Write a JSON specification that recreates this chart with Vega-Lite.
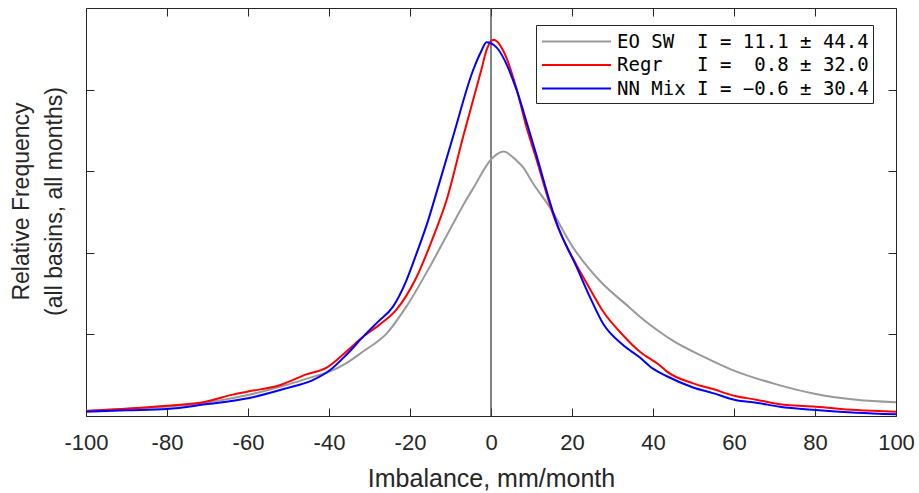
{
  "$schema": "https://vega.github.io/schema/vega-lite/v6.json",
  "width": 810,
  "height": 408,
  "autosize": {"type": "none"},
  "padding": {"left": 86, "top": 8, "right": 23, "bottom": 77},
  "background": "white",
  "config": {
    "view": {"stroke": null},
    "font": "Liberation Sans",
    "axis": {
      "grid": false,
      "domainColor": "#262626",
      "domainWidth": 1,
      "tickColor": "#262626",
      "tickWidth": 1,
      "tickSize": -8,
      "labelFont": "Liberation Sans",
      "labelFontSize": 22,
      "labelColor": "#262626",
      "titleFont": "Liberation Sans",
      "titleFontWeight": "normal",
      "titleColor": "#262626"
    }
  },
  "layer": [
    {
      "data": {"values": [{"x": 0}]},
      "mark": {"type": "rule", "color": "#404040", "strokeWidth": 1.3},
      "encoding": {
        "x": {
          "field": "x",
          "type": "quantitative",
          "scale": {"domain": [-100, 100], "nice": false, "zero": false},
          "axis": {
            "orient": "bottom",
            "values": [-100, -80, -60, -40, -20, 0, 20, 40, 60, 80, 100],
            "labelPadding": 24,
            "labelFlush": false,
            "labelExpr": "'' + datum.value",
            "title": "Imbalance, mm/month",
            "titleFontSize": 25,
            "titlePadding": 13
          }
        },
        "y": {
          "datum": 0,
          "type": "quantitative",
          "scale": {"domain": [0, 5], "nice": false, "zero": false},
          "axis": {
            "orient": "left",
            "values": [1, 2, 3, 4],
            "labels": false,
            "title": ["Relative Frequency", "(all basins, all months)"],
            "titleFontSize": 23,
            "titleLineHeight": 33,
            "titlePadding": 19,
            "titleY": 193
          }
        },
        "y2": {"datum": 5}
      }
    },
    {
      "data": {
        "values": [
          {"series": "EO SW", "x": -100, "y": 0.065},
          {"series": "EO SW", "x": -90, "y": 0.09},
          {"series": "EO SW", "x": -80, "y": 0.114},
          {"series": "EO SW", "x": -70.5, "y": 0.163},
          {"series": "EO SW", "x": -60, "y": 0.257},
          {"series": "EO SW", "x": -50.6, "y": 0.38},
          {"series": "EO SW", "x": -44, "y": 0.48},
          {"series": "EO SW", "x": -40, "y": 0.54},
          {"series": "EO SW", "x": -35.8, "y": 0.645},
          {"series": "EO SW", "x": -31.6, "y": 0.79},
          {"series": "EO SW", "x": -25.8, "y": 1.01},
          {"series": "EO SW", "x": -20.9, "y": 1.34},
          {"series": "EO SW", "x": -15.1, "y": 1.83},
          {"series": "EO SW", "x": -10.2, "y": 2.28},
          {"series": "EO SW", "x": -6.1, "y": 2.65},
          {"series": "EO SW", "x": -4.4, "y": 2.79},
          {"series": "EO SW", "x": 0.1, "y": 3.15},
          {"series": "EO SW", "x": 1.5, "y": 3.21},
          {"series": "EO SW", "x": 3.1, "y": 3.24},
          {"series": "EO SW", "x": 6.3, "y": 3.13},
          {"series": "EO SW", "x": 7.9, "y": 3.05},
          {"series": "EO SW", "x": 10.4, "y": 2.85},
          {"series": "EO SW", "x": 14.5, "y": 2.56},
          {"series": "EO SW", "x": 20.2, "y": 2.07},
          {"series": "EO SW", "x": 26.8, "y": 1.66},
          {"series": "EO SW", "x": 34.2, "y": 1.33},
          {"series": "EO SW", "x": 36.7, "y": 1.22},
          {"series": "EO SW", "x": 41.7, "y": 1.03},
          {"series": "EO SW", "x": 45, "y": 0.92},
          {"series": "EO SW", "x": 53.2, "y": 0.71},
          {"series": "EO SW", "x": 60.3, "y": 0.55},
          {"series": "EO SW", "x": 69.6, "y": 0.4},
          {"series": "EO SW", "x": 80.2, "y": 0.27},
          {"series": "EO SW", "x": 90.2, "y": 0.2},
          {"series": "EO SW", "x": 100, "y": 0.17},
          {"series": "Regr", "x": -100, "y": 0.061},
          {"series": "Regr", "x": -90, "y": 0.09},
          {"series": "Regr", "x": -80, "y": 0.126},
          {"series": "Regr", "x": -70.5, "y": 0.175},
          {"series": "Regr", "x": -63.5, "y": 0.265},
          {"series": "Regr", "x": -60, "y": 0.3},
          {"series": "Regr", "x": -52, "y": 0.38},
          {"series": "Regr", "x": -45.6, "y": 0.51},
          {"series": "Regr", "x": -40.7, "y": 0.59},
          {"series": "Regr", "x": -35.7, "y": 0.79},
          {"series": "Regr", "x": -31.6, "y": 0.97},
          {"series": "Regr", "x": -27.5, "y": 1.12},
          {"series": "Regr", "x": -23.4, "y": 1.3},
          {"series": "Regr", "x": -18.4, "y": 1.7},
          {"series": "Regr", "x": -14.3, "y": 2.19},
          {"series": "Regr", "x": -11, "y": 2.64},
          {"series": "Regr", "x": -6.9, "y": 3.42},
          {"series": "Regr", "x": -2.4, "y": 4.24},
          {"series": "Regr", "x": -1, "y": 4.5},
          {"series": "Regr", "x": 0.7, "y": 4.61},
          {"series": "Regr", "x": 3, "y": 4.48},
          {"series": "Regr", "x": 6.3, "y": 4.01},
          {"series": "Regr", "x": 8.7, "y": 3.55},
          {"series": "Regr", "x": 11.2, "y": 3.15},
          {"series": "Regr", "x": 14.5, "y": 2.6},
          {"series": "Regr", "x": 15.7, "y": 2.42},
          {"series": "Regr", "x": 21.1, "y": 1.85},
          {"series": "Regr", "x": 24.4, "y": 1.56},
          {"series": "Regr", "x": 27.7, "y": 1.28},
          {"series": "Regr", "x": 32.6, "y": 0.99},
          {"series": "Regr", "x": 36.7, "y": 0.79},
          {"series": "Regr", "x": 41.7, "y": 0.62},
          {"series": "Regr", "x": 43.3, "y": 0.55},
          {"series": "Regr", "x": 49.9, "y": 0.4},
          {"series": "Regr", "x": 54.8, "y": 0.33},
          {"series": "Regr", "x": 60.3, "y": 0.245},
          {"series": "Regr", "x": 65.5, "y": 0.2},
          {"series": "Regr", "x": 71.3, "y": 0.143},
          {"series": "Regr", "x": 80.2, "y": 0.114},
          {"series": "Regr", "x": 90.2, "y": 0.073},
          {"series": "Regr", "x": 100, "y": 0.053},
          {"series": "NN Mix", "x": -100, "y": 0.053},
          {"series": "NN Mix", "x": -90, "y": 0.07},
          {"series": "NN Mix", "x": -80, "y": 0.086},
          {"series": "NN Mix", "x": -70.5, "y": 0.143},
          {"series": "NN Mix", "x": -60, "y": 0.217},
          {"series": "NN Mix", "x": -50.6, "y": 0.339},
          {"series": "NN Mix", "x": -44, "y": 0.44},
          {"series": "NN Mix", "x": -39.8, "y": 0.56},
          {"series": "NN Mix", "x": -35.7, "y": 0.75},
          {"series": "NN Mix", "x": -31.6, "y": 0.97},
          {"series": "NN Mix", "x": -28, "y": 1.15},
          {"series": "NN Mix", "x": -24.2, "y": 1.34},
          {"series": "NN Mix", "x": -20.9, "y": 1.66},
          {"series": "NN Mix", "x": -18.4, "y": 1.99},
          {"series": "NN Mix", "x": -15.5, "y": 2.4},
          {"series": "NN Mix", "x": -14.1, "y": 2.63},
          {"series": "NN Mix", "x": -9.4, "y": 3.42},
          {"series": "NN Mix", "x": -4.4, "y": 4.24},
          {"series": "NN Mix", "x": -2.5, "y": 4.46},
          {"series": "NN Mix", "x": -1.1, "y": 4.58},
          {"series": "NN Mix", "x": 1.3, "y": 4.52},
          {"series": "NN Mix", "x": 6.3, "y": 4.0},
          {"series": "NN Mix", "x": 9.1, "y": 3.55},
          {"series": "NN Mix", "x": 11.2, "y": 3.2},
          {"series": "NN Mix", "x": 14.5, "y": 2.63},
          {"series": "NN Mix", "x": 16.1, "y": 2.38},
          {"series": "NN Mix", "x": 21.1, "y": 1.83},
          {"series": "NN Mix", "x": 24.4, "y": 1.46},
          {"series": "NN Mix", "x": 27.7, "y": 1.13},
          {"series": "NN Mix", "x": 32.6, "y": 0.87},
          {"series": "NN Mix", "x": 36.7, "y": 0.72},
          {"series": "NN Mix", "x": 40, "y": 0.58},
          {"series": "NN Mix", "x": 43.3, "y": 0.49},
          {"series": "NN Mix", "x": 49.9, "y": 0.35},
          {"series": "NN Mix", "x": 54.8, "y": 0.28},
          {"series": "NN Mix", "x": 60.3, "y": 0.196},
          {"series": "NN Mix", "x": 65.5, "y": 0.163},
          {"series": "NN Mix", "x": 71.3, "y": 0.114},
          {"series": "NN Mix", "x": 80.2, "y": 0.073},
          {"series": "NN Mix", "x": 90.2, "y": 0.04},
          {"series": "NN Mix", "x": 100, "y": 0.02}
        ]
      },
      "mark": {"type": "line", "interpolate": "monotone", "strokeWidth": 2},
      "encoding": {
        "x": {
          "field": "x",
          "type": "quantitative",
          "axis": {
            "orient": "top",
            "values": [-100, -80, -60, -40, -20, 0, 20, 40, 60, 80, 100],
            "labels": false,
            "title": null
          }
        },
        "y": {
          "field": "y",
          "type": "quantitative",
          "axis": {
            "orient": "right",
            "values": [1, 2, 3, 4],
            "labels": false,
            "title": null
          }
        },
        "color": {
          "field": "series",
          "type": "nominal",
          "scale": {
            "domain": ["EO SW", "Regr", "NN Mix"],
            "range": ["#999999", "#ff0000", "#0000ff"]
          },
          "legend": {
            "orient": "none",
            "legendX": 450,
            "legendY": 17,
            "title": null,
            "symbolType": "M-3,0H3",
            "symbolSize": 529,
            "symbolStrokeWidth": 2,
            "symbolOffset": 24,
            "labelFont": "DejaVu Sans Mono",
            "labelFontSize": 19,
            "labelColor": "#000000",
            "labelOffset": 28,
            "labelLimit": 400,
            "strokeColor": "#262626",
            "fillColor": "white",
            "padding": 4,
            "rowPadding": 0.5,
            "labelExpr": "datum.label == 'EO SW' ? 'EO SW\u00a0\u00a0I = 11.1 ± 44.4' : datum.label == 'Regr' ? 'Regr\u00a0\u00a0\u00a0I =\u00a0\u00a00.8 ± 32.0' : 'NN Mix I = −0.6 ± 30.4'"
          }
        }
      }
    }
  ],
  "resolve": {"axis": {"x": "independent", "y": "independent"}}
}
